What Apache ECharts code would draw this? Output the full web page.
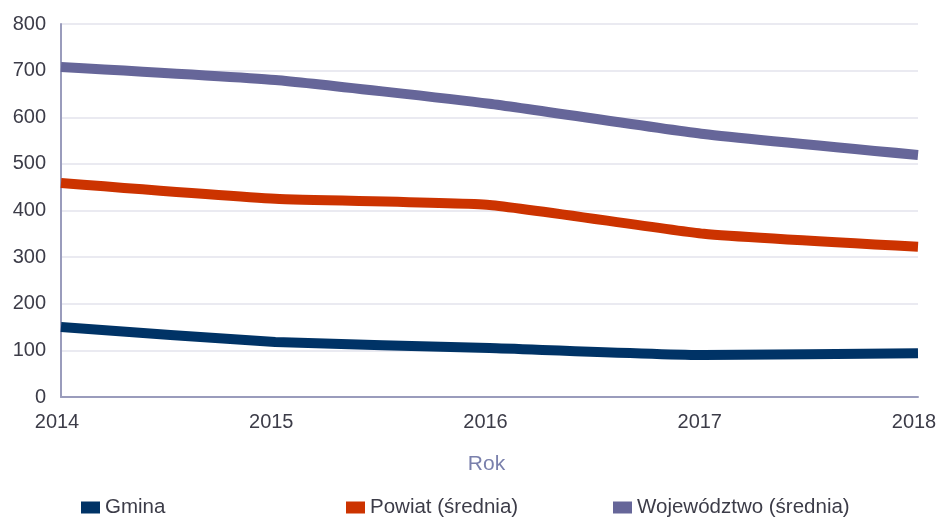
<!DOCTYPE html>
<html>
<head>
<meta charset="utf-8">
<script src="https://cdn.jsdelivr.net/npm/echarts@6/dist/echarts.min.js"></script>
<style>
  html, body { margin: 0; padding: 0; background: #fff; }
  #chart { width: 939px; height: 519px; }
</style>
</head>
<body>
<div id="chart"></div>
<script>
// dane z wykresu
const years = ['2014', '2015', '2016', '2017', '2018'];
const gmina = [150, 118, 105, 90, 94];
const powiat = [459, 425, 412, 350, 322];
const wojewodztwo = [708, 680, 629, 564, 519];

const chart = echarts.init(document.getElementById('chart'), null, { renderer: 'canvas' });

const legendText = { color: '#3c3c48', fontSize: 20.5, fontFamily: 'Liberation Sans' };

// każda pozycja legendy ustawiona osobno (nierówne odstępy jak w oryginale)
function legendAt(name, left) {
    return {
        data: [name],
        left: left,
        top: 497,
        padding: 0,
        icon: 'rect',
        itemWidth: 19,
        itemHeight: 12,
        itemGap: 6,
        textStyle: legendText
    };
}

const option = {
    backgroundColor: '#fff',
    animation: false,
    grid: { left: 61, right: 21, top: 24, bottom: 122, outerBoundsMode: 'none', containLabel: false },
    legend: [
        legendAt('Gmina', 81),
        legendAt('Powiat (średnia)', 346),
        legendAt('Województwo (średnia)', 613)
    ],
    xAxis: {
        type: 'category',
        data: years,
        boundaryGap: false,
        name: 'Rok',
        nameLocation: 'middle',
        nameGap: 57,
        nameTextStyle: { color: '#7a80ac', fontSize: 21, fontFamily: 'Liberation Sans', padding: [0, 6, 0, 0] },
        axisLine: { lineStyle: { color: '#9a9cbc', width: 2 } },
        axisTick: { show: false },
        axisLabel: {
            color: '#3c3c48', fontSize: 20, fontFamily: 'Liberation Sans', margin: 15,
            padding: [0, 8, 0, 0],
            alignMinLabel: 'center', alignMaxLabel: 'center'
        },
        splitLine: { show: false }
    },
    yAxis: {
        type: 'value',
        min: 0,
        max: 800,
        interval: 100,
        axisLine: { show: true, lineStyle: { color: '#9a9cbc', width: 2 } },
        axisTick: { show: false },
        axisLabel: { color: '#3c3c48', fontSize: 20, fontFamily: 'Liberation Sans', margin: 15 },
        splitLine: { lineStyle: { color: '#e3e3ec', width: 1.5 } }
    },
    series: [
        {
            name: 'Gmina',
            type: 'line',
            data: gmina,
            smooth: 0.15,
            symbol: 'none',
            color: '#003366',
            lineStyle: { width: 10, color: '#003366' }
        },
        {
            name: 'Powiat (średnia)',
            type: 'line',
            data: powiat,
            smooth: 0.15,
            symbol: 'none',
            color: '#cc3300',
            lineStyle: { width: 10, color: '#cc3300' }
        },
        {
            name: 'Województwo (średnia)',
            type: 'line',
            data: wojewodztwo,
            smooth: 0.15,
            symbol: 'none',
            color: '#666699',
            lineStyle: { width: 10, color: '#666699' }
        }
    ]
};

chart.setOption(option);
</script>
</body>
</html>
